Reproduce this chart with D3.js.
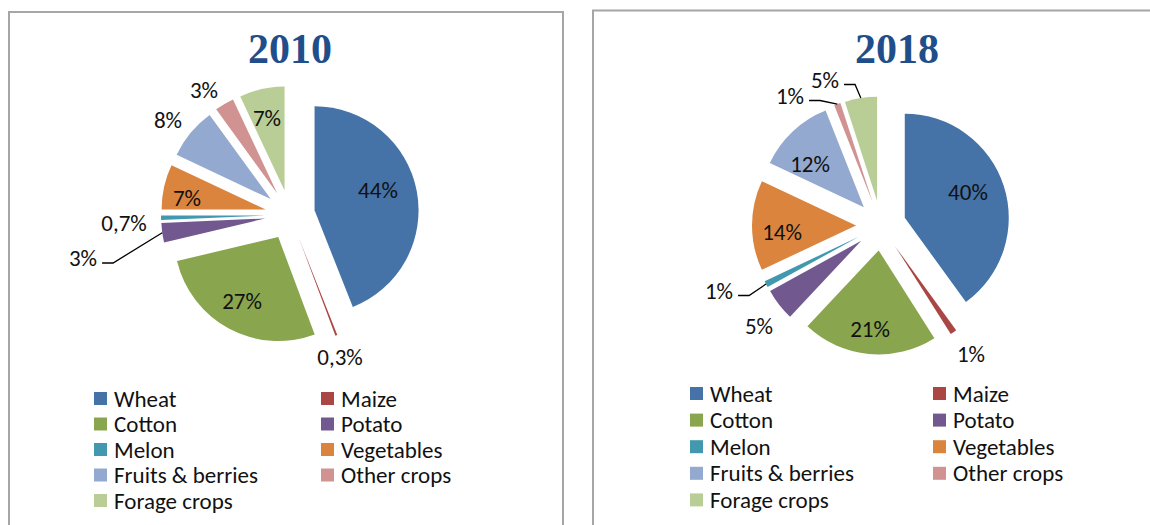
<!DOCTYPE html>
<html>
<head>
<meta charset="utf-8">
<script src="https://cdn.jsdelivr.net/npm/d3@7"></script>
<style>
  body { margin: 0; background: #fff; }
  text { font-family: Carlito, Calibri, "Open Sans", sans-serif; }
</style>
</head>
<body>
<svg class="pies"></svg>
<script>
// Data
var crops = ["Wheat", "Maize", "Cotton", "Potato", "Melon", "Vegetables", "Fruits & berries", "Other crops", "Forage crops"];
var years = ["2010", "2018"];
var share2010 = [44, 0.3, 27, 3, 0.7, 7, 8, 3, 7];
var share2018 = [40, 1, 21, 5, 1, 14, 12, 1, 5];
var labels2010 = ["44%", "0,3%", "27%", "3%", "0,7%", "7%", "8%", "3%", "7%"];
var labels2018 = ["40%", "1%", "21%", "5%", "1%", "14%", "12%", "1%", "5%"];

var colors = ["#4572A7", "#AA4643", "#89A54E", "#71588F", "#4198AF", "#DB843D", "#93A9CF", "#D19392", "#B9CD96"];

// Layout
var w = 1150,
    h = 525;

var svg = d3.select(".pies")
    .attr("width", w)
    .attr("height", h);

var radius = 104,
    explode = 25;

// label centres relative to pie centre, and which labels get a leader line
var panels = [
    { year: years[0], values: share2010, labels: labels2010,
      frame: { x: 9, y: 12, w: 554 }, cx: 290, cy: 215, titleX: 290,
      legend: { x1: 94, x2: 321, y0: 398.5, step: 25.5 },
      offsets: [[88, -25], [50, 142], [-48, 86], [-207, 43], [-166, 8], [-103, -17], [-122, -95], [-86, -125], [-23, -97]],
      leaders: [3] },
    { year: years[1], values: share2018, labels: labels2018,
      frame: { x: 593, y: 10.5, w: 600 }, cx: 881, cy: 225.5, titleX: 897,
      legend: { x1: 690, x2: 933, y0: 393.5, step: 26.6 },
      offsets: [[87, -34], [90, 128], [-11, 103], [-122, 100], [-162, 65], [-99, 6], [-71, -62], [-91, -130], [-56, -146]],
      leaders: [4, 7, 8] }
];

var pie = d3.pie()
    .sort(null)
    .value(function(d) { return d; });

var arc = d3.arc()
    .innerRadius(0)
    .outerRadius(radius);

panels.forEach(function(p) {

    var g = svg.append("g");

    g.append("rect")
        .attr("x", p.frame.x)
        .attr("y", p.frame.y)
        .attr("width", p.frame.w)
        .attr("height", 600)
        .attr("fill", "#fff")
        .attr("stroke", "#A6A6A6")
        .attr("stroke-width", 2);

    g.append("text")
        .attr("x", p.titleX)
        .attr("y", 63)
        .attr("text-anchor", "middle")
        .style("font-family", "'Liberation Serif', 'Times New Roman', serif")
        .style("font-weight", "bold")
        .style("font-size", "42px")
        .attr("fill", "#1F4E8A")
        .text(p.year);

    var arcs = pie(p.values);

    var shift = function(d) {
        var mid = (d.startAngle + d.endAngle) / 2;
        return [explode * Math.sin(mid), -explode * Math.cos(mid)];
    };

    var gp = g.append("g")
        .attr("transform", "translate(" + p.cx + "," + p.cy + ")");

    gp.selectAll("path.slice")
        .data(arcs)
        .enter().append("path")
        .attr("class", "slice")
        .attr("fill", function(d, i) { return colors[i]; })
        .attr("transform", function(d) { var s = shift(d); return "translate(" + s[0] + "," + s[1] + ")"; })
        .attr("d", arc);

    var lbl = gp.selectAll("text.lbl")
        .data(arcs)
        .enter().append("text")
        .attr("class", "lbl")
        .attr("x", function(d, i) { return p.offsets[i][0]; })
        .attr("y", function(d, i) { return p.offsets[i][1]; })
        .attr("dy", "0.35em")
        .attr("text-anchor", "middle")
        .style("font-size", "23px")
        .attr("fill", "#111")
        .text(function(d, i) { return p.labels[i]; });

    var widths = [];
    lbl.each(function(d, i) { widths[i] = this.getComputedTextLength(); });

    // leader lines
    gp.selectAll("path.leader")
        .data(arcs.filter(function(d, i) { return p.leaders.indexOf(i) >= 0; }))
        .enter().append("path")
        .attr("class", "leader")
        .attr("fill", "none")
        .attr("stroke", "#000")
        .attr("stroke-width", 1.3)
        .attr("d", function(d) {
            var i = d.index,
                mid = (d.startAngle + d.endAngle) / 2,
                s = shift(d),
                tx = s[0] + radius * Math.sin(mid),
                ty = s[1] - radius * Math.cos(mid),
                o = p.offsets[i],
                x0 = o[0] + widths[i] / 2 + 5,
                y0 = o[1] + 5;
            return "M" + x0 + "," + y0 + "H" + (x0 + 11) + "L" + tx + "," + ty;
        });

    // legend, two columns, row-major
    var leg = g.selectAll("g.leg")
        .data(crops)
        .enter().append("g")
        .attr("class", "leg")
        .attr("transform", function(d, i) {
            var x = i % 2 === 0 ? p.legend.x1 : p.legend.x2,
                y = p.legend.y0 + Math.floor(i / 2) * p.legend.step;
            return "translate(" + x + "," + y + ")";
        });

    leg.append("rect")
        .attr("x", 0)
        .attr("y", -6.5)
        .attr("width", 13)
        .attr("height", 13)
        .attr("fill", function(d, i) { return colors[i]; });

    leg.append("text")
        .attr("x", 20)
        .attr("dy", "0.35em")
        .style("font-size", "23px")
        .attr("fill", "#111")
        .text(function(d) { return d; });
});
</script>
</body>
</html>
